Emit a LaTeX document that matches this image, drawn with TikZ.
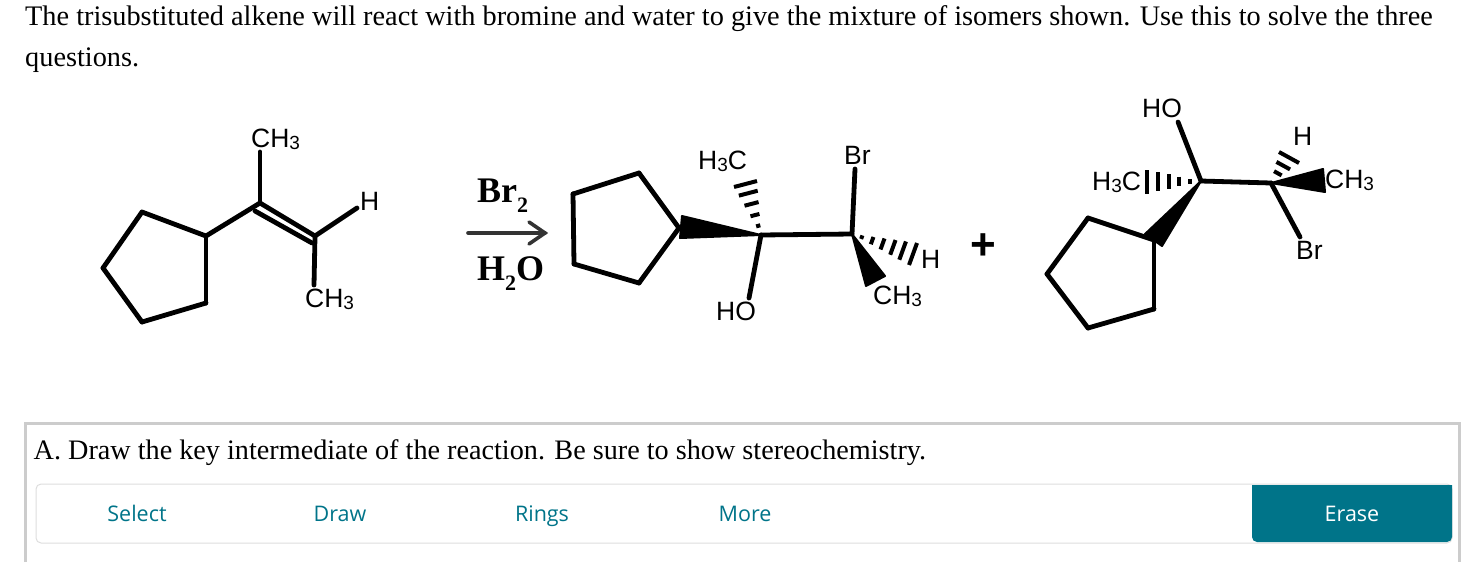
\documentclass[tikz,border=0pt]{standalone}
\usepackage{fontspec}
\setmainfont{Liberation Serif}
\newfontfamily\molfont{Liberation Sans}
\newfontfamily\uifont{Open Sans}
\usetikzlibrary{calc}

\definecolor{uiteal}{HTML}{007489}
\definecolor{uiframe}{HTML}{CCCCCC}
\definecolor{uibar}{HTML}{DDDDDD}
\definecolor{arrowgray}{HTML}{333333}

\newcommand{\subthree}{\raisebox{-2.5pt}{\fontsize{19}{19}\selectfont 3}}
\newcommand{\subtwo}{\raisebox{-10pt}{\fontsize{22}{22}\selectfont 2}}
\newcommand{\hashbond}[4]{%
  \foreach \t in {#4}
    \draw[hashline] ($(#1)!\t!(#2)$) -- ($(#1)!\t!(#3)$);}

\tikzset{
  bond/.style={line width=4.8pt, line cap=round, line join=round},
  wedgebond/.style={fill=black, draw=black, line width=2pt, line join=round},
  hashline/.style={line width=4pt},
  atomlabel/.style={anchor=base west, inner sep=0pt, font=\molfont\fontsize{26.5}{28}\selectfont},
  prose/.style={anchor=base west, inner sep=0pt, font=\fontsize{28.3}{30}\selectfont},
  reagent/.style={anchor=base west, inner sep=0pt, font=\bfseries\fontsize{36}{38}\selectfont},
  toolbtn/.style={anchor=base, inner sep=0pt, text=uiteal, font=\uifont\fontsize{21.5}{24}\selectfont}
}

\begin{document}
\begin{tikzpicture}[x=1pt,y=-1pt]
 \useasboundingbox (0,0) rectangle (1482,562);

 % question text
 \node[prose] (line1) at (25,25) {The trisubstituted alkene will react with bromine and water to give the mixture of isomers shown. Use this to solve the three};
 \node[prose] (line2) at (25,66) {questions.};

 % alkene
 \coordinate (a1) at (206,236);
 \coordinate (a2) at (142,212);
 \coordinate (a3) at (103,268);
 \coordinate (a4) at (142,322);
 \coordinate (a5) at (206,303);
 \coordinate (a6) at (260,203);
 \coordinate (a7) at (315,236);
 \coordinate (a8) at (260,152);
 \coordinate (a9) at (357,208);
 \coordinate (a10) at (314,285);
 \coordinate (a11) at (255,211);
 \coordinate (a12) at (312,243);

 \foreach \from/\to in {a1/a2, a2/a3, a3/a4, a4/a5, a5/a1, a1/a6, a6/a7, a6/a8, a7/a9, a7/a10, a11/a12}
   \draw[bond] (\from) -- (\to);

 \node[atomlabel] (a8lab) at (251,147) {CH\subthree};
 \node[atomlabel] (a9lab) at (360,210) {H};
 \node[atomlabel] (a10lab) at (305,307) {CH\subthree};

 % reagents
 \node[reagent] (rgt1) at (477,202) {Br\subtwo};
 \node[reagent] (rgt2) at (477,280) {H\subtwo O};
 \coordinate (arr1) at (468,233);
 \coordinate (arr2) at (545,233);
 \coordinate (arr3) at (529,222);
 \coordinate (arr4) at (529,244);
 \draw[line width=3.6pt, arrowgray, line cap=round] (arr1) -- (arr2);
 \draw[line width=3.6pt, arrowgray, line cap=round, line join=miter] (arr3) -- (arr2) -- (arr4);

 % first isomer
 \coordinate (b1) at (679,228);
 \coordinate (b2) at (639,173);
 \coordinate (b3) at (573,194);
 \coordinate (b4) at (574,264);
 \coordinate (b5) at (639,283);
 \coordinate (b6) at (761,235);
 \coordinate (b7) at (852,234);
 \coordinate (b8) at (749,298);
 \coordinate (b9) at (855,169);
 \coordinate (b10) at (682,216);
 \coordinate (b11) at (680,238);
 \coordinate (b12) at (734,187);
 \coordinate (b13) at (757,181);
 \coordinate (b14) at (866,286);
 \coordinate (b15) at (885,276);
 \coordinate (b16) at (917,243);
 \coordinate (b17) at (909,265);

 \foreach \from/\to in {b1/b2, b2/b3, b3/b4, b4/b5, b5/b1, b6/b7, b6/b8, b7/b9}
   \draw[bond] (\from) -- (\to);
 \draw[wedgebond] (b6) -- (b10) -- (b11) -- cycle;
 \draw[wedgebond] (b7) -- (b14) -- (b15) -- cycle;
 \hashbond{b6}{b12}{b13}{.18,.39,.61,.82,1}
 \hashbond{b7}{b16}{b17}{.16,.33,.5,.67,.83,1}

 \node[atomlabel] (b12lab) at (698,169) {H\subthree C};
 \node[atomlabel] (b9lab) at (844,164) {Br};
 \node[atomlabel] (b8lab) at (716,320) {HO};
 \node[atomlabel] (b16lab) at (921,268) {H};
 \node[atomlabel] (b14lab) at (873,304) {CH\subthree};

 \node[inner sep=0pt, font=\molfont\bfseries\fontsize{44}{46}\selectfont] (plus) at (983,247) {+};

 % second isomer
 \coordinate (c1) at (1154,240);
 \coordinate (c2) at (1088,218);
 \coordinate (c3) at (1047,274);
 \coordinate (c4) at (1088,328);
 \coordinate (c5) at (1154,309);
 \coordinate (c6) at (1201,181);
 \coordinate (c7) at (1271,183);
 \coordinate (c8) at (1178,122);
 \coordinate (c9) at (1300,237);
 \coordinate (c10) at (1145,234);
 \coordinate (c11) at (1162,246);
 \coordinate (c12) at (1147,170);
 \coordinate (c13) at (1147,194);
 \coordinate (c14) at (1323,169);
 \coordinate (c15) at (1325,192);
 \coordinate (c16) at (1279,152);
 \coordinate (c17) at (1299,163);

 \foreach \from/\to in {c1/c2, c2/c3, c3/c4, c4/c5, c5/c1, c6/c7, c6/c8, c7/c9}
   \draw[bond] (\from) -- (\to);
 \draw[wedgebond] (c6) -- (c10) -- (c11) -- cycle;
 \draw[wedgebond] (c7) -- (c14) -- (c15) -- cycle;
 \hashbond{c6}{c12}{c13}{.2,.4,.6,.8,1}
 \hashbond{c7}{c16}{c17}{.38,.68,1}

 \node[atomlabel] (c8lab) at (1142,117) {HO};
 \node[atomlabel] (c12lab) at (1092,190) {H\subthree C};
 \node[atomlabel] (c16lab) at (1293,145) {H};
 \node[atomlabel] (c14lab) at (1325,188) {CH\subthree};
 \node[atomlabel] (c9lab) at (1296,259) {Br};

 % answer panel
 \draw[uiframe, line width=3pt] (25,562) -- (25,423) -- (1459,423) -- (1459,562);
 \node[prose, font=\fontsize{28.2}{30}\selectfont] (partA) at (33.5,459) {A. Draw the key intermediate of the reaction. Be sure to show stereochemistry.};

 \draw[uibar, line width=1pt, rounded corners=5pt] (36,484) rectangle (1452,543);
 \fill[uiteal] (1252,510) -- (1252,485) -- (1452,485) -- (1452,510) [rounded corners=5pt] -- (1452,542) -- (1252,542) -- (1252,510) -- cycle;
 \node[toolbtn] (btn1) at (137,521.5) {Select};
 \node[toolbtn] (btn2) at (340,521.5) {Draw};
 \node[toolbtn] (btn3) at (542,521.5) {Rings};
 \node[toolbtn] (btn4) at (745,521.5) {More};
 \node[toolbtn, text=white] (btn5) at (1352,521.5) {Erase};

\end{tikzpicture}
\end{document}
